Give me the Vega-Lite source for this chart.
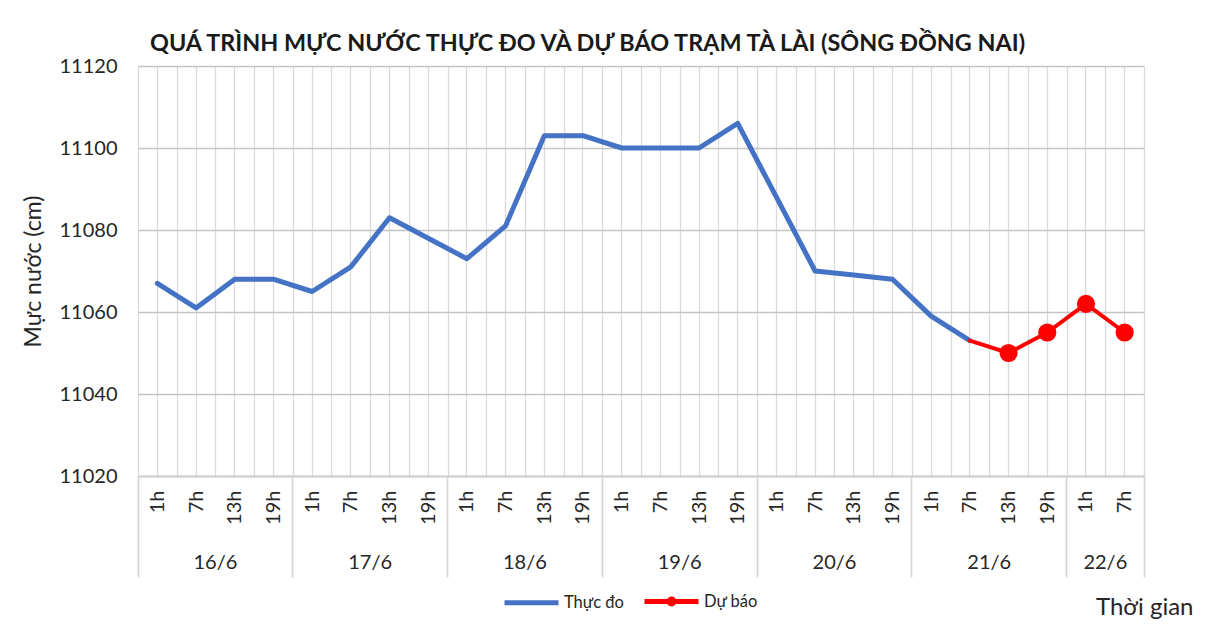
{
  "$schema": "https://vega.github.io/schema/vega-lite/v6.json",
  "width": 1006,
  "height": 410,
  "autosize": {"type": "none"},
  "padding": {"left": 138, "top": 66, "right": 73, "bottom": 150},
  "background": "white",
  "title": {
    "text": "QUÁ TRÌNH MỰC NƯỚC THỰC ĐO VÀ DỰ BÁO TRẠM TÀ LÀI (SÔNG ĐỒNG NAI)",
    "anchor": "start",
    "frame": "group",
    "dx": 12,
    "offset": -18,
    "baseline": "alphabetic",
    "font": "Lato",
    "fontSize": 23.4,
    "fontWeight": "bold",
    "color": "#1a1a1a"
  },
  "data": {
    "values": [
      {"time": "16/6 1h", "level": 11067, "series": "Thực đo"},
      {"time": "16/6 7h", "level": 11061, "series": "Thực đo"},
      {"time": "16/6 13h", "level": 11068, "series": "Thực đo"},
      {"time": "16/6 19h", "level": 11068, "series": "Thực đo"},
      {"time": "17/6 1h", "level": 11065, "series": "Thực đo"},
      {"time": "17/6 7h", "level": 11071, "series": "Thực đo"},
      {"time": "17/6 13h", "level": 11083, "series": "Thực đo"},
      {"time": "17/6 19h", "level": 11078, "series": "Thực đo"},
      {"time": "18/6 1h", "level": 11073, "series": "Thực đo"},
      {"time": "18/6 7h", "level": 11081, "series": "Thực đo"},
      {"time": "18/6 13h", "level": 11103, "series": "Thực đo"},
      {"time": "18/6 19h", "level": 11103, "series": "Thực đo"},
      {"time": "19/6 1h", "level": 11100, "series": "Thực đo"},
      {"time": "19/6 7h", "level": 11100, "series": "Thực đo"},
      {"time": "19/6 13h", "level": 11100, "series": "Thực đo"},
      {"time": "19/6 19h", "level": 11106, "series": "Thực đo"},
      {"time": "20/6 1h", "level": 11088, "series": "Thực đo"},
      {"time": "20/6 7h", "level": 11070, "series": "Thực đo"},
      {"time": "20/6 13h", "level": 11069, "series": "Thực đo"},
      {"time": "20/6 19h", "level": 11068, "series": "Thực đo"},
      {"time": "21/6 1h", "level": 11059, "series": "Thực đo"},
      {"time": "21/6 7h", "level": 11053, "series": "Thực đo"},
      {"time": "21/6 7h", "level": 11053, "series": "Dự báo"},
      {"time": "21/6 13h", "level": 11050, "series": "Dự báo"},
      {"time": "21/6 19h", "level": 11055, "series": "Dự báo"},
      {"time": "22/6 1h", "level": 11062, "series": "Dự báo"},
      {"time": "22/6 7h", "level": 11055, "series": "Dự báo"}
    ]
  },
  "layer": [
    {
      "encoding": {
        "x": {
          "field": "time", "type": "nominal",
          "scale": {"type": "band", "paddingInner": 0, "paddingOuter": 0,
            "domain": ["16/6 1h","16/6 7h","16/6 13h","16/6 19h","17/6 1h","17/6 7h","17/6 13h","17/6 19h","18/6 1h","18/6 7h","18/6 13h","18/6 19h","19/6 1h","19/6 7h","19/6 13h","19/6 19h","20/6 1h","20/6 7h","20/6 13h","20/6 19h","21/6 1h","21/6 7h","21/6 13h","21/6 19h","22/6 1h","22/6 7h"]},
          "axis": {
            "orient": "bottom",
            "title": null,
            "labelExpr": "split(datum.value, ' ')[1]",
            "labelAngle": 270,
            "labelAlign": "right",
            "labelBaseline": "middle",
            "labelPadding": 14,
            "labelOverlap": false,
            "ticks": false,
            "grid": true,
            "tickBand": "extent",
            "gridColor": "#dadada",
            "gridWidth": 1.3,
            "domain": true,
            "domainColor": "#d0d0d0",
            "domainWidth": 2
          }
        },
        "y": {
          "field": "level", "type": "quantitative",
          "scale": {"domain": [11020, 11120], "nice": false, "zero": false},
          "axis": {
            "values": [11020, 11040, 11060, 11080, 11100, 11120],
            "format": "d",
            "title": "Mực nước (cm)",
            "titleFontSize": 23,
            "titleFontWeight": "normal",
            "titleX": -105,
            "titleBaseline": "middle",
            "labelPadding": 21,
            "ticks": false,
            "domain": false,
            "grid": true,
            "gridColor": "#c4c4c4",
            "gridWidth": 1.3
          }
        },
        "color": {
          "field": "series", "type": "nominal",
          "scale": {"domain": ["Thực đo", "Dự báo"], "range": ["#4472C4", "#FF0000"]},
          "legend": {
            "title": null,
            "orient": "none",
            "direction": "horizontal",
            "legendX": 364,
            "legendY": 506,
            "symbolSize": 2916,
            "symbolStrokeWidth": 5,
            "labelFontSize": 16.5,
            "labelOffset": 3,
            "columnPadding": 10,
            "encode": {
              "symbols": {
                "update": {
                  "shape": {"signal": "datum.value === 'Dự báo' ? 'M-1,0L1,0M0.09,0A0.09,0.09,0,1,1,-0.09,0A0.09,0.09,0,1,1,0.09,0Z' : 'M-1,0L1,0'"},
                  "fill": {"signal": "datum.value === 'Dự báo' ? '#FF0000' : 'transparent'"}
                }
              }
            }
          }
        }
      },
      "layer": [
        {
          "transform": [{"filter": "datum.series === 'Thực đo'"}],
          "mark": {"type": "line", "strokeWidth": 5, "strokeJoin": "round", "strokeCap": "round"}
        },
        {
          "transform": [{"filter": "datum.series === 'Dự báo'"}],
          "mark": {"type": "line", "strokeWidth": 4, "strokeJoin": "round", "strokeCap": "round"}
        },
        {
          "transform": [{"filter": "datum.series === 'Dự báo' && datum.time !== '21/6 7h'"}],
          "mark": {"type": "point", "filled": true, "size": 330, "opacity": 1, "color": "#FF0000"}
        }
      ]
    },
    {
      "mark": {"type": "point", "opacity": 0},
      "encoding": {
        "x": {
          "field": "time", "type": "nominal",
          "scale": {"type": "band", "paddingInner": 0, "paddingOuter": 0,
            "domain": ["16/6 1h","16/6 7h","16/6 13h","16/6 19h","17/6 1h","17/6 7h","17/6 13h","17/6 19h","18/6 1h","18/6 7h","18/6 13h","18/6 19h","19/6 1h","19/6 7h","19/6 13h","19/6 19h","20/6 1h","20/6 7h","20/6 13h","20/6 19h","21/6 1h","21/6 7h","21/6 13h","21/6 19h","22/6 1h","22/6 7h"]},
          "axis": {
            "orient": "bottom",
            "title": null,
            "labels": false,
            "ticks": false,
            "domain": false,
            "grid": true,
            "tickBand": "center",
            "gridColor": "#dadada",
            "gridWidth": 1.3
          }
        }
      }
    },
    {
      "mark": {"type": "point", "opacity": 0},
      "encoding": {
        "x": {
          "field": "time", "type": "nominal",
          "scale": {"type": "band", "paddingInner": 0, "paddingOuter": 0,
            "domain": ["16/6 1h","16/6 7h","16/6 13h","16/6 19h","17/6 1h","17/6 7h","17/6 13h","17/6 19h","18/6 1h","18/6 7h","18/6 13h","18/6 19h","19/6 1h","19/6 7h","19/6 13h","19/6 19h","20/6 1h","20/6 7h","20/6 13h","20/6 19h","21/6 1h","21/6 7h","21/6 13h","21/6 19h","22/6 1h","22/6 7h"]},
          "axis": {
            "orient": "bottom",
            "title": null,
            "values": ["16/6 7h","17/6 7h","18/6 7h","19/6 7h","20/6 7h","21/6 7h","22/6 1h"],
            "labelExpr": "split(datum.value, ' ')[0]",
            "labelOffset": 19.35,
            "labelPadding": 86,
            "labelAngle": 0,
            "labelAlign": "center",
            "labelBaseline": "middle",
            "labelOverlap": false,
            "ticks": false,
            "domain": false,
            "grid": false
          }
        }
      }
    },
    {
      "mark": {"type": "point", "opacity": 0},
      "encoding": {
        "x": {
          "field": "time", "type": "nominal",
          "scale": {"type": "band", "paddingInner": 0, "paddingOuter": 0,
            "domain": ["16/6 1h","16/6 7h","16/6 13h","16/6 19h","17/6 1h","17/6 7h","17/6 13h","17/6 19h","18/6 1h","18/6 7h","18/6 13h","18/6 19h","19/6 1h","19/6 7h","19/6 13h","19/6 19h","20/6 1h","20/6 7h","20/6 13h","20/6 19h","21/6 1h","21/6 7h","21/6 13h","21/6 19h","22/6 1h","22/6 7h"]},
          "axis": {
            "orient": "bottom",
            "values": ["16/6 1h","17/6 1h","18/6 1h","19/6 1h","20/6 1h","21/6 1h","22/6 1h"],
            "bandPosition": 0,
            "labels": false,
            "ticks": true,
            "tickSize": 101,
            "tickColor": "#d6d6d6",
            "tickWidth": 1.8,
            "domain": false,
            "grid": false,
            "title": "Thời gian",
            "titleFontSize": 24,
            "titleFontWeight": "normal",
            "titleX": 1055,
            "titleY": 131,
            "titleAlign": "right",
            "titleBaseline": "middle"
          }
        }
      }
    },
    {
      "mark": {"type": "point", "opacity": 0},
      "encoding": {
        "x": {
          "field": "time", "type": "nominal",
          "scale": {"type": "band", "paddingInner": 0, "paddingOuter": 0,
            "domain": ["16/6 1h","16/6 7h","16/6 13h","16/6 19h","17/6 1h","17/6 7h","17/6 13h","17/6 19h","18/6 1h","18/6 7h","18/6 13h","18/6 19h","19/6 1h","19/6 7h","19/6 13h","19/6 19h","20/6 1h","20/6 7h","20/6 13h","20/6 19h","21/6 1h","21/6 7h","21/6 13h","21/6 19h","22/6 1h","22/6 7h"]},
          "axis": {
            "orient": "bottom",
            "values": ["22/6 7h"],
            "bandPosition": 1,
            "labels": false,
            "ticks": true,
            "tickSize": 101,
            "tickColor": "#d6d6d6",
            "tickWidth": 1.8,
            "domain": false,
            "grid": false,
            "title": null
          }
        }
      }
    }
  ],
  "resolve": {"scale": {"x": "independent"}, "axis": {"x": "independent"}},
  "config": {
    "font": "Lato",
    "view": {"stroke": null},
    "axis": {
      "labelFont": "Lato",
      "labelFontSize": 20,
      "labelColor": "#262626",
      "titleFont": "Lato",
      "titleColor": "#262626"
    },
    "legend": {
      "labelFont": "Lato",
      "labelColor": "#262626"
    }
  }
}
